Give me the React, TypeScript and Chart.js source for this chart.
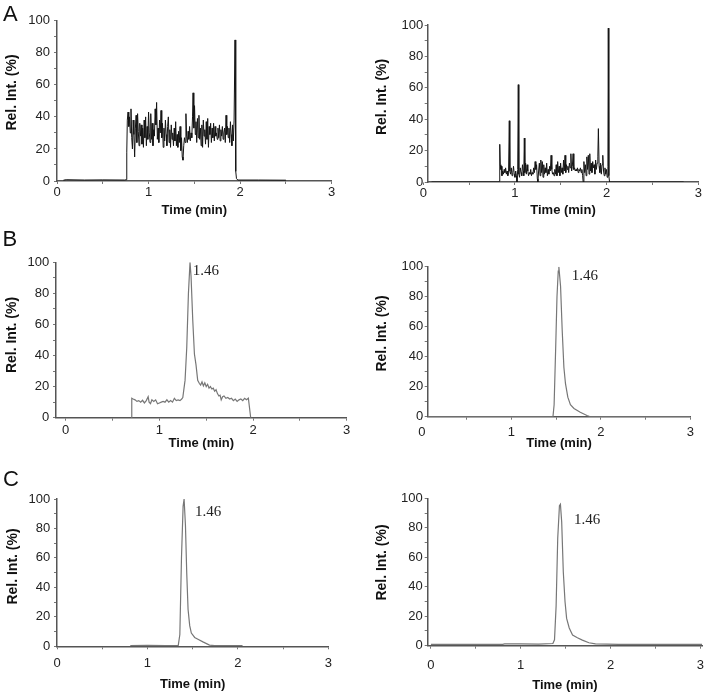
import React, { useEffect, useRef } from 'react';
import { Chart, registerables } from 'chart.js';

Chart.register(...registerables);

const SANS = '"Liberation Sans", Arial, Helvetica, sans-serif';
const SERIF = '"Liberation Serif", "Times New Roman", serif';

const X_TICKS = [0, 0.5, 1, 1.5, 2, 2.5, 3];
const Y_TICKS = [0, 10, 20, 30, 40, 50, 60, 70, 80, 90, 100];
const X_TITLE = 'Time (min)';
const Y_TITLE = 'Rel. Int. (%)';
const PEAK_LABEL = '1.46';
const PANEL_LETTERS = ['A', 'B', 'C'];

// ---------- Panel A, left ----------
const aLeftTime = [
  0.07, 0.10, 0.30, 0.50, 0.74, 0.755, 0.762, 0.768, 0.776, 0.784,
  0.792, 0.800, 0.808, 0.816, 0.824, 0.832, 0.840, 0.848, 0.856, 0.864,
  0.872, 0.880, 0.888, 0.896, 0.904, 0.912, 0.920, 0.928, 0.936, 0.944,
  0.952, 0.960, 0.968, 0.976, 0.984, 0.992, 1.000, 1.008, 1.016, 1.024,
  1.032, 1.040, 1.048, 1.056, 1.064, 1.072, 1.080, 1.088, 1.096, 1.104,
  1.112, 1.120, 1.128, 1.136, 1.144, 1.152, 1.160, 1.168, 1.176, 1.184,
  1.192, 1.200, 1.208, 1.216, 1.224, 1.232, 1.240, 1.248, 1.256, 1.264,
  1.272, 1.280, 1.288, 1.296, 1.304, 1.312, 1.320, 1.328, 1.336, 1.344,
  1.352, 1.360, 1.368, 1.376, 1.384, 1.392, 1.400, 1.408, 1.416, 1.424,
  1.432, 1.440, 1.448, 1.456, 1.464, 1.472, 1.480, 1.486, 1.494, 1.502,
  1.510, 1.518, 1.526, 1.534, 1.542, 1.550, 1.558, 1.566, 1.574, 1.582,
  1.590, 1.598, 1.606, 1.614, 1.622, 1.630, 1.638, 1.646, 1.654, 1.662,
  1.670, 1.678, 1.686, 1.694, 1.702, 1.710, 1.718, 1.726, 1.734, 1.742,
  1.750, 1.758, 1.766, 1.774, 1.782, 1.790, 1.798, 1.806, 1.814, 1.822,
  1.830, 1.838, 1.846, 1.854, 1.862, 1.870, 1.878, 1.886, 1.894, 1.902,
  1.910, 1.918, 1.926, 1.934, 1.944, 1.952, 1.960, 1.975, 2.20, 2.50,
];
const aLeftRel = [
  0.5, 0.8, 0.6, 0.7, 0.6, 0.8, 18, 38, 43, 34,
  40, 30, 45, 27, 20, 38, 29, 15, 33, 41,
  24, 42, 31, 22, 36, 28, 35, 23, 33, 21,
  38, 27, 40, 22, 34, 26, 43, 30, 24, 42,
  26, 36, 22, 32, 28, 45, 35, 49, 26, 33,
  24, 38, 30, 44, 27, 36, 21, 33, 25, 38,
  29, 22, 34, 40, 24, 32, 21, 35, 26, 30,
  22, 33, 25, 37, 22, 29, 21, 31, 24, 34,
  19, 27, 15, 13, 22, 27, 24, 42, 28, 24,
  31, 26, 34, 25, 30, 27, 40, 55, 33, 47,
  29, 37, 24, 39, 27, 41, 26, 33, 22, 35,
  21, 38, 28, 32, 23, 37, 26, 39, 21, 34,
  29, 36, 24, 33, 27, 36, 25, 34, 28, 30,
  26, 33, 27, 35, 25, 32, 28, 34, 26, 30,
  33, 24, 41, 29, 34, 27, 33, 24, 37, 29,
  22, 35, 25, 38, 88, 6, 1.5, 0.6, 0.6, 0.5,
];

// ---------- Panel A, right ----------
const aRightTime = [
  0.09, 0.50, 0.82, 0.828, 0.834, 0.840, 0.846, 0.852, 0.858, 0.866,
  0.874, 0.882, 0.890, 0.898, 0.906, 0.914, 0.922, 0.930, 0.938, 0.944,
  0.952, 0.960, 0.968, 0.976, 0.984, 0.992, 1.000, 1.008, 1.016, 1.022,
  1.030, 1.036, 1.042, 1.050, 1.058, 1.066, 1.074, 1.082, 1.090, 1.096,
  1.102, 1.108, 1.116, 1.124, 1.132, 1.140, 1.148, 1.156, 1.164, 1.172,
  1.180, 1.188, 1.196, 1.204, 1.212, 1.220, 1.228, 1.236, 1.244, 1.250,
  1.258, 1.266, 1.274, 1.282, 1.290, 1.298, 1.306, 1.314, 1.322, 1.330,
  1.338, 1.346, 1.354, 1.362, 1.370, 1.378, 1.386, 1.394, 1.402, 1.410,
  1.418, 1.426, 1.434, 1.442, 1.450, 1.458, 1.466, 1.474, 1.482, 1.490,
  1.498, 1.506, 1.514, 1.522, 1.530, 1.538, 1.546, 1.554, 1.562, 1.570,
  1.578, 1.586, 1.594, 1.602, 1.610, 1.618, 1.626, 1.634, 1.642, 1.650,
  1.658, 1.666, 1.674, 1.682, 1.690, 1.698, 1.706, 1.714, 1.722, 1.730,
  1.738, 1.744, 1.752, 1.760, 1.768, 1.776, 1.784, 1.792, 1.800, 1.808,
  1.816, 1.824, 1.832, 1.840, 1.848, 1.856, 1.864, 1.872, 1.880, 1.888,
  1.896, 1.904, 1.910, 1.918, 1.926, 1.934, 1.942, 1.950, 1.958, 1.966,
  1.974, 1.982, 1.990, 1.998, 2.006, 2.014, 2.018, 2.024, 2.032, 2.84,
];
const aRightRel = [
  0, 0, 0, 0.5, 24, 11, 8, 10, 4, 7,
  5, 8, 6, 9, 5, 7, 4, 6, 39, 7,
  5, 9, 4, 6, 10, 5, 3, 7, 4, 0,
  8, 62, 5, 3, 9, 6, 4, 11, 7, 4,
  28, 6, 12, 5, 11, 7, 4, 6, 5, 8,
  4, 6, 5, 9, 6, 13, 8, 11, 2, 0,
  7, 12, 4, 14, 6, 13, 3, 11, 5, 9,
  6, 12, 4, 8, 5, 10, 7, 17, 8, 5,
  6, 4, 8, 5, 11, 4, 13, 6, 10, 4,
  12, 6, 9, 5, 14, 7, 17, 6, 11, 8,
  10, 6, 12, 9, 18, 7, 10, 18, 8, 9,
  7, 8, 7, 9, 6, 8, 7, 9, 6, 8,
  4, 0, 13, 6, 11, 4, 16, 8, 17, 5,
  18, 7, 12, 6, 13, 9, 11, 5, 14, 8,
  12, 16, 34, 10, 6, 12, 5, 11, 17, 7,
  4, 9, 5, 8, 3, 10, 98, 4, 0, 0,
];

// ---------- Panel B, left ----------
const bLeftTime = [
  0.697, 0.705, 0.72, 0.74, 0.76, 0.78, 0.80, 0.82, 0.84, 0.86,
  0.88, 0.89, 0.905, 0.92, 0.94, 0.96, 0.98, 1.00, 1.02, 1.04,
  1.06, 1.08, 1.10, 1.12, 1.14, 1.16, 1.18, 1.20, 1.22, 1.238,
  1.25, 1.263, 1.274, 1.292, 1.31, 1.327, 1.338, 1.356, 1.374, 1.391,
  1.409, 1.427, 1.44, 1.455, 1.47, 1.485, 1.50, 1.515, 1.53, 1.545,
  1.56, 1.575, 1.59, 1.605, 1.62, 1.635, 1.648, 1.66, 1.675, 1.69,
  1.71, 1.73, 1.75, 1.77, 1.79, 1.81, 1.83, 1.85, 1.87, 1.89,
  1.91, 1.93, 1.95, 1.975,
];
const bLeftRel = [
  0, 12.5, 12, 11.5, 10.5, 11, 10, 11.2, 9.5, 11,
  13.5, 10, 9, 11.5, 10.5, 11.5, 9, 9.5, 10, 10.5,
  10, 11.5, 10, 11, 10, 12.5, 11, 11.5, 11, 12,
  13, 19, 24, 45, 80, 100, 91, 63, 41, 34,
  24, 22, 21, 23, 20.5, 22.5, 20, 21.5, 19, 20,
  18.5, 19, 17, 18, 15.5, 14, 14.5, 11.5, 13.5, 14,
  12.5, 13, 12, 12.5, 11, 12, 10.5, 11.5, 12, 11,
  12.5, 11.5, 12.5, 0,
];

// ---------- Panel B, right ----------
const bRightTime = [
  0.07, 1.465, 1.478, 1.495, 1.51, 1.524, 1.531, 1.55, 1.568, 1.587,
  1.605, 1.631, 1.66, 1.70, 1.77, 1.845, 1.882, 3.0,
];
const bRightRel = [
  0, 0, 8, 45, 80, 97, 100, 87, 58, 33,
  22, 13, 8, 5.5, 3, 0.8, 0, 0,
];

// ---------- Panel C, left ----------
const cLeftTime = [
  0.81, 1.0, 1.2, 1.34, 1.358, 1.376, 1.394, 1.405, 1.42, 1.434,
  1.449, 1.467, 1.485, 1.522, 1.558, 1.613, 1.686, 1.741, 2.051,
];
const cLeftRel = [
  0.4, 0.6, 0.4, 0.5, 8, 60, 95, 100, 82, 50,
  25, 14, 9, 6, 4.8, 3, 0.8, 0.4, 0.4,
];

// ---------- Panel C, right ----------
const cRightTime = [
  0, 0.8, 0.82, 1.0, 1.2, 1.358, 1.376, 1.394, 1.412, 1.431,
  1.442, 1.456, 1.474, 1.493, 1.511, 1.54, 1.577, 1.631, 1.686, 1.759,
  1.832, 2.088, 3.02,
];
const cRightRel = [
  0.9, 0.9, 1.2, 1.2, 1.1, 1.5, 4, 27, 73, 95,
  96, 84, 50, 30, 18.5, 12, 7.2, 5.4, 3.8, 2,
  1.2, 0.9, 0.9,
];

type Pt = { x: number; y: number };
type PanelCfg = {
  key: string;
  time: number[];
  rel: number[];
  color: string;
  lineWidth: number;
  L: number; R: number; T: number; B: number;
  xMin: number; xMax: number;
  colLeft: number;
  padX: number; padY: number;
  titleY: number;
  yLab: { x: number; y: number };
  letter: { text: string; x: number; y: number } | null;
  ann: { x: number; y: number } | null;
};

const PANELS: PanelCfg[] = [
  {
    key: 'aL', time: aLeftTime, rel: aLeftRel, color: '#151515', lineWidth: 1,
    L: 57, R: 331.7, T: 20.7, B: 181, xMin: 0, xMax: 3, colLeft: 0,
    padX: 1, padY: 4, titleY: 210, yLab: { x: 12, y: 92.5 },
    letter: { text: PANEL_LETTERS[0], x: 3, y: 20.7 }, ann: null,
  },
  {
    key: 'aR', time: aRightTime, rel: aRightRel, color: '#151515', lineWidth: 1,
    L: 427.7, R: 698.3, T: 25, B: 182, xMin: 0.048, xMax: 3, colLeft: 352,
    padX: 1, padY: 1.4, titleY: 210, yLab: { x: 381.7, y: 97 },
    letter: null, ann: null,
  },
  {
    key: 'bL', time: bLeftTime, rel: bLeftRel, color: '#777777', lineWidth: 1.2,
    L: 56, R: 346.7, T: 262.3, B: 417.7, xMin: -0.104, xMax: 3, colLeft: 0,
    padX: 2, padY: 3.7, titleY: 443, yLab: { x: 12.5, y: 335 },
    letter: { text: PANEL_LETTERS[1], x: 2.5, y: 246 }, ann: { x: 192.7, y: 275 },
  },
  {
    key: 'bR', time: bRightTime, rel: bRightRel, color: '#777777', lineWidth: 1.2,
    L: 427.7, R: 692.7, T: 266.7, B: 416.7, xMin: 0.066, xMax: 3, colLeft: 352,
    padX: 5, padY: 1.4, titleY: 443, yLab: { x: 382.3, y: 333.5 },
    letter: null, ann: { x: 571.7, y: 280 },
  },
  {
    key: 'cL', time: cLeftTime, rel: cLeftRel, color: '#777777', lineWidth: 1.2,
    L: 57, R: 331.7, T: 499, B: 646.3, xMin: 0, xMax: 3, colLeft: 0,
    padX: 6, padY: 3.7, titleY: 684, yLab: { x: 12.7, y: 566.5 },
    letter: { text: PANEL_LETTERS[2], x: 3, y: 485.7 }, ann: { x: 195, y: 516 },
  },
  {
    key: 'cR', time: cRightTime, rel: cRightRel, color: '#777777', lineWidth: 1.2,
    L: 427.7, R: 706.7, T: 498.3, B: 645.7, xMin: -0.036, xMax: 3.02, colLeft: 352,
    padX: 9, padY: 2, titleY: 685, yLab: { x: 381.7, y: 562.5 },
    letter: null, ann: { x: 574, y: 524 },
  },
];

const TICK_LEN = 3;
const TITLE_LH = 13 * 1.2;

function geometry(p: PanelCfg) {
  const CL = p.colLeft;
  let topWanted = p.T - 16;
  if (p.letter) topWanted = Math.min(topWanted, p.letter.y - 20);
  const CT = Math.max(0, Math.floor(topWanted));
  const CW = Math.ceil(p.R + 6 - CL);
  const CH = Math.ceil(p.titleY + 10 - CT);
  const pt = p.T - CT;
  const pr = CW - (p.R - CL);
  const yw = p.L - CL;
  const xh = CH - (p.B - CT);
  const titlePadB = CH - (p.titleY - CT) - TITLE_LH / 2;
  return { CL, CT, CW, CH, pt, pr, yw, xh, titlePadB };
}

function Panel({ p }: { p: PanelCfg }) {
  const ref = useRef<HTMLCanvasElement | null>(null);
  const g = geometry(p);

  useEffect(() => {
    if (!ref.current) return;
    const pts: Pt[] = p.time.map((t, i) => ({ x: t, y: p.rel[i] }));
    const textPlugin = {
      id: 'panelText',
      afterDraw(chart: any) {
        const ctx = chart.ctx as CanvasRenderingContext2D;
        ctx.save();
        // y-axis label
        ctx.translate(p.yLab.x - g.CL, p.yLab.y - g.CT);
        ctx.rotate(-Math.PI / 2);
        ctx.font = `bold 14px ${SANS}`;
        ctx.fillStyle = '#111';
        ctx.textAlign = 'center';
        ctx.textBaseline = 'middle';
        ctx.fillText(Y_TITLE, 0, 0);
        ctx.restore();
        if (p.letter) {
          ctx.save();
          ctx.font = `22px ${SANS}`;
          ctx.fillStyle = '#111';
          ctx.textAlign = 'left';
          ctx.textBaseline = 'alphabetic';
          ctx.fillText(p.letter.text, p.letter.x - g.CL, p.letter.y - g.CT);
          ctx.restore();
        }
        if (p.ann) {
          ctx.save();
          ctx.font = `15px ${SERIF}`;
          ctx.fillStyle = '#222';
          ctx.textAlign = 'left';
          ctx.textBaseline = 'alphabetic';
          ctx.fillText(PEAK_LABEL, p.ann.x - g.CL, p.ann.y - g.CT);
          ctx.restore();
        }
      },
    };

    const chart = new Chart(ref.current, {
      type: 'line',
      data: {
        datasets: [
          {
            data: pts as any,
            borderColor: p.color,
            borderWidth: p.lineWidth,
            pointRadius: 0,
            tension: 0,
            fill: false,
          },
        ],
      },
      options: {
        animation: false,
        responsive: false,
        maintainAspectRatio: false,
        events: [],
        layout: { padding: { left: 0, top: g.pt, right: g.pr, bottom: 0 } },
        plugins: { legend: { display: false }, tooltip: { enabled: false } },
        scales: {
          x: {
            type: 'linear',
            min: p.xMin,
            max: p.xMax,
            afterBuildTicks: (s: any) => {
              s.ticks = X_TICKS.map((v) => ({ value: v }));
            },
            afterFit: (s: any) => {
              s.height = g.xh;
            },
            grid: {
              display: true,
              drawOnChartArea: false,
              drawTicks: true,
              tickLength: TICK_LEN,
              color: '#777',
              lineWidth: 1,
            },
            border: { display: true, color: '#555', width: 1.5 },
            ticks: {
              autoSkip: false,
              maxRotation: 0,
              padding: p.padX,
              color: '#222',
              font: { family: SANS, size: 13 },
              callback: (v: any) => (Number.isInteger(Number(v)) ? String(v) : ''),
            },
            title: {
              display: true,
              text: X_TITLE,
              color: '#111',
              font: { family: SANS, size: 13, weight: 'bold' },
              padding: { top: 0, bottom: g.titlePadB },
            },
          },
          y: {
            type: 'linear',
            min: 0,
            max: 100,
            afterBuildTicks: (s: any) => {
              s.ticks = Y_TICKS.map((v) => ({ value: v }));
            },
            afterFit: (s: any) => {
              s.width = g.yw;
            },
            grid: {
              display: true,
              drawOnChartArea: false,
              drawTicks: true,
              tickLength: TICK_LEN,
              color: '#777',
              lineWidth: 1,
            },
            border: { display: true, color: '#555', width: 1.5 },
            ticks: {
              autoSkip: false,
              padding: p.padY,
              color: '#222',
              font: { family: SANS, size: 13 },
              callback: (v: any) => (Number(v) % 20 === 0 ? String(v) : ''),
            },
          },
        },
      } as any,
      plugins: [textPlugin as any],
    });
    return () => chart.destroy();
  }, []);

  return (
    <canvas
      ref={ref}
      width={g.CW}
      height={g.CH}
      style={{ position: 'absolute', left: g.CL, top: g.CT, width: g.CW, height: g.CH }}
    />
  );
}

export default function App() {
  return (
    <div
      style={{
        position: 'absolute',
        left: 0,
        top: 0,
        width: 710,
        height: 694,
        overflow: 'hidden',
        background: '#ffffff',
      }}
    >
      {PANELS.map((p) => (
        <Panel key={p.key} p={p} />
      ))}
    </div>
  );
}
